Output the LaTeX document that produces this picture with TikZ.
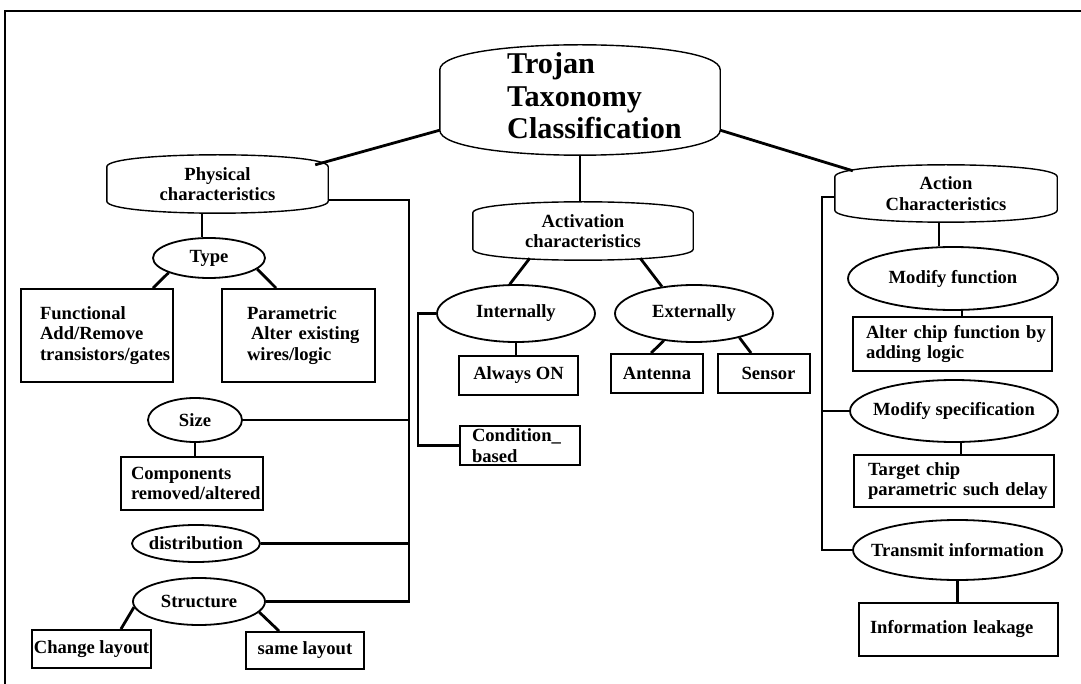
\documentclass[tikz,border=0pt]{standalone}
\usepackage{fontspec}
\setmainfont{Liberation Serif}
\usetikzlibrary{shapes.geometric,calc}

% no hyphenation inside the boxed labels
\hyphenpenalty=10000
\exhyphenpenalty=10000

% rounded "capsule" outline around a rectangular node: flat sides, arched top and bottom
\newcommand{\capoutline}[2]{%
  \draw[capline] ([yshift=-#2pt]#1.north west) -- ([yshift=#2pt]#1.south west)
    .. controls ([yshift=-#2pt/3]#1.south west) and ([yshift=-#2pt/3]#1.south east) .. ([yshift=#2pt]#1.south east)
    -- ([yshift=-#2pt]#1.north east)
    .. controls ([yshift=#2pt/3]#1.north east) and ([yshift=#2pt/3]#1.north west) .. cycle;}
\newcommand{\zw}[1]{\makebox[0pt]{#1}}

\begin{document}
\begin{tikzpicture}[x=1pt,y=-1pt,
  lbl/.style={font=\fontsize{18.6}{20.5}\selectfont\bfseries},
  conn/.style={line width=2.8pt, line join=miter},
  capline/.style={line width=1.4pt},
  capsule/.style={lbl, rectangle, inner sep=0pt, align=center},
  oval/.style={lbl, ellipse, draw, line width=1.8pt, inner sep=0pt},
  box/.style={lbl, rectangle, draw, line width=1.9pt, inner sep=0pt, align=left},
  cbox/.style={lbl, rectangle, draw, line width=1.9pt, inner sep=0pt, align=center},
  titletext/.style={font=\fontsize{30.2}{32.5}\selectfont\bfseries, align=left, inner sep=0pt, anchor=west}
]
\useasboundingbox (0,0) rectangle (1081,684);

% page frame
\draw[line width=2.6pt] (5,684) -- (5,11) -- (1081,11);

% root
\node[capsule, minimum width=280pt, minimum height=110pt] (top) at (580,100) {};
\capoutline{top}{25}
\node[titletext] (toptitle) at (507,96) {Trojan\\Taxonomy\\Classification};

% category headers
\node[capsule, minimum width=221pt, minimum height=58pt] (phys) at (217.5,184) {Physical\\characteristics};
\capoutline{phys}{12}
\node[capsule, minimum width=220pt, minimum height=58pt] (actv) at (583,231) {Activation\\characteristics};
\capoutline{actv}{11}
\node[capsule, minimum width=222pt, minimum height=57pt] (actn) at (946,193.5) {Action\\Characteristics};
\capoutline{actn}{12}

% physical characteristics
\node[oval, minimum width=112pt, minimum height=40pt] (type) at (209,258) {\zw{Type}};
\node[box, minimum width=152pt, minimum height=93pt, text width=114pt] (func) at (97,335.5) {Functional\\Add/Remove\\transistors/gates};
\node[box, minimum width=153pt, minimum height=93pt, text width=103pt] (param) at (298.5,335.5) {Parametric\\\hspace*{4pt}Alter~existing\\wires/logic};
\node[oval, minimum width=94pt, minimum height=44pt] (size) at (195,420) {\zw{Size}};
\node[box, minimum width=142pt, minimum height=53pt, text width=122pt] (comp) at (192,483.5) {Components\\removed/altered};
\node[oval, minimum width=128pt, minimum height=37pt] (dist) at (196,543.5) {\zw{distribution}};
\node[oval, minimum width=132pt, minimum height=47pt] (struct) at (199,601.5) {\zw{Structure}};
\node[cbox, minimum width=119pt, minimum height=38pt] (chg) at (91.5,649) {\zw{Change layout}};
\node[cbox, minimum width=118pt, minimum height=37pt] (same) at (305,650.5) {same~layout};

% activation characteristics
\node[oval, minimum width=158pt, minimum height=57pt] (int) at (516,313.5) {\zw{Internally}};
\node[oval, minimum width=158pt, minimum height=57pt] (ext) at (694,313.5) {\zw{Externally}};
\node[cbox, minimum width=119pt, minimum height=39pt] (aon) at (518.5,375.5) {Always~ON};
\node[box, minimum width=120pt, minimum height=39pt, text width=96pt] (cond) at (520,445.5) {Condition\_\\based};
\node[cbox, minimum width=92pt, minimum height=39pt] (ant) at (657,373.5) {Antenna};
\node[cbox, minimum width=92pt, minimum height=39pt] (sen) at (764,373.5) {\hspace*{9pt}Sensor};

% action characteristics
\node[oval, minimum width=210pt, minimum height=63pt] (mf) at (953,278.5) {\zw{Modify function}};
\node[box, minimum width=199pt, minimum height=54pt, text width=173pt] (alter) at (952.5,344) {Alter~chip~function~by\\adding~logic};
\node[oval, minimum width=208pt, minimum height=62pt] (ms) at (954,411) {\zw{Modify specification}};
\node[box, minimum width=200pt, minimum height=52pt, text width=172pt] (tgt) at (954,481) {Target~chip\\parametric~such~delay};
\node[oval, minimum width=209pt, minimum height=60pt] (ti) at (957.5,550) {\zw{Transmit information}};
\node[box, minimum width=199pt, minimum height=53pt, text width=177pt] (info) at (958.5,629.5) {Information~leakage\\[-6pt]};

% bus corner points
\coordinate (pb) at (409,601.5);
\coordinate (ib) at (418,445.5);
\coordinate (ab) at (822,550);

% root links
\draw[conn] ([yshift=25pt]top.south west) -- ([xshift=-13pt,yshift=-10pt]phys.north east);
\draw[conn] ([yshift=25pt]top.south east) -- ([xshift=18pt,yshift=-6pt]actn.north west);
\draw[conn] (top.south) -- (top.south |- actv.north);

% physical links
\draw[conn] ([xshift=-7pt]type.north |- phys.south) -- ([xshift=-7pt]type.north);
\draw[conn] (type.200) -- ([xshift=-21pt]func.north east);
\draw[conn] (type.-13) -- ([xshift=55pt]param.north west);
\draw[conn] ([yshift=-16pt]phys.east) -| (pb) -- (struct.east);
\draw[conn] (size.east) -- (size.east -| pb);
\draw[conn] (dist.east) -- (dist.east -| pb);
\draw[conn] (size.south) -- (size.south |- comp.north);
\draw[conn] (struct.185) -- ([xshift=-31pt]chg.north east);
\draw[conn] (struct.-10) -- ([xshift=34pt]same.north west);

% activation links
\draw[conn] ([xshift=57pt,yshift=2pt]actv.south west) -- (int.102);
\draw[conn] ([xshift=-53pt,yshift=2pt]actv.south east) -- (ext.140);
\draw[conn] (int.south) -- (int.south |- aon.north);
\draw[conn] (int.west) -| (ib) -- (cond.west);
\draw[conn] (ext.222) -- ([xshift=41pt]ant.north west);
\draw[conn] (ext.-28) -- ([xshift=34pt]sen.north west);

% action links
\draw[conn] ([xshift=-7pt]actn.south) -- ([xshift=-7pt]actn.south |- mf.north);
\draw[conn] ([xshift=9pt]mf.south) -- ([xshift=9pt]mf.south |- alter.north);
\draw[conn] ([xshift=7pt]ms.south) -- ([xshift=7pt]ms.south |- tgt.north);
\draw[conn] (ti.south) -- (ti.south |- info.north);
\draw[conn] ([yshift=-3.5pt]actn.west) -| (ab) -- (ti.west);
\draw[conn] (ms.west) -- (ms.west -| ab);
\end{tikzpicture}
\end{document}
